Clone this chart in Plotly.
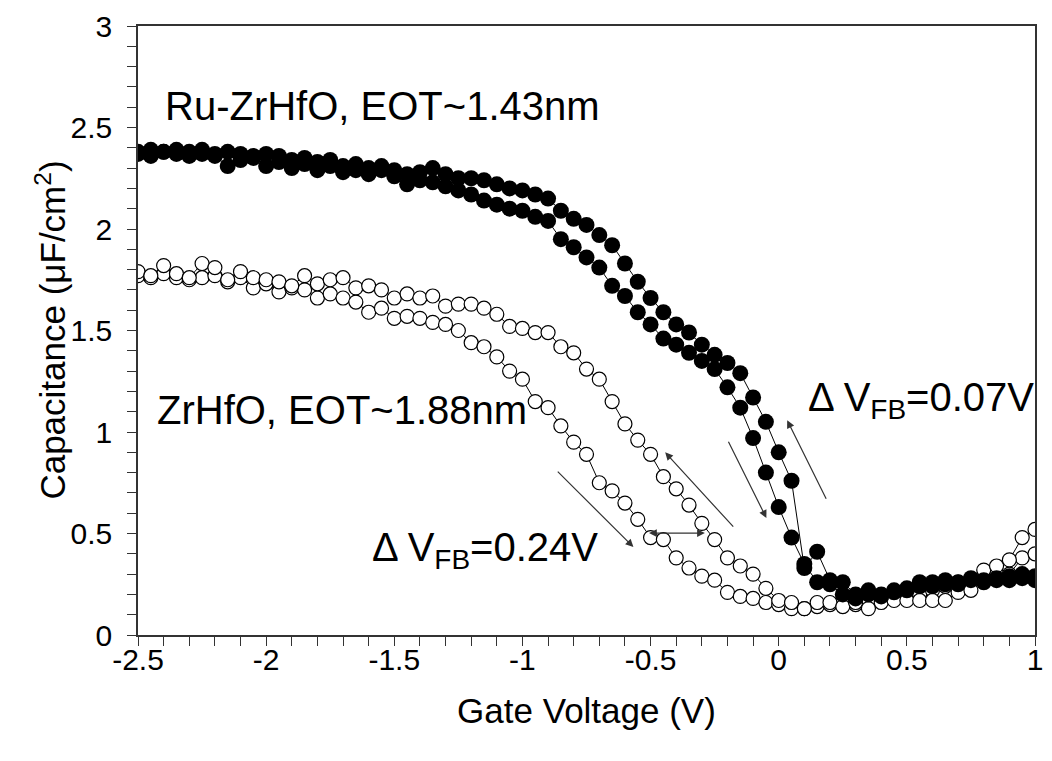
import plotly.graph_objects as go

gate_voltage = [
    -2.50, -2.45, -2.40, -2.35, -2.30, -2.25, -2.20, -2.15, -2.10, -2.05,
    -2.00, -1.95, -1.90, -1.85, -1.80, -1.75, -1.70, -1.65, -1.60, -1.55,
    -1.50, -1.45, -1.40, -1.35, -1.30, -1.25, -1.20, -1.15, -1.10, -1.05,
    -1.00, -0.95, -0.90, -0.85, -0.80, -0.75, -0.70, -0.65, -0.60, -0.55,
    -0.50, -0.45, -0.40, -0.35, -0.30, -0.25, -0.20, -0.15, -0.10, -0.05,
    0.00, 0.05, 0.10, 0.15, 0.20, 0.25, 0.30, 0.35, 0.40, 0.45,
    0.50, 0.55, 0.60, 0.65, 0.70, 0.75, 0.80, 0.85, 0.90, 0.95, 1.00,
]

# Ru-ZrHfO (filled circles), two sweep branches
ru_sweep_a = [
    2.37, 2.36, 2.38, 2.37, 2.36, 2.37, 2.36, 2.31, 2.34, 2.36,
    2.31, 2.33, 2.30, 2.32, 2.29, 2.31, 2.28, 2.29, 2.27, 2.29,
    2.26, 2.22, 2.24, 2.23, 2.21, 2.19, 2.17, 2.14, 2.12, 2.10,
    2.09, 2.06, 2.04, 1.95, 1.91, 1.86, 1.81, 1.72, 1.67, 1.59,
    1.53, 1.46, 1.43, 1.39, 1.35, 1.31, 1.22, 1.12, 0.97, 0.80,
    0.63, 0.48, 0.35, 0.26, 0.25, 0.20, 0.18, 0.20, 0.19, 0.21,
    0.22, 0.24, 0.24, 0.25, 0.25, 0.27, 0.26, 0.27, 0.27, 0.28, 0.27,
]
ru_sweep_b = [
    2.38, 2.39, 2.38, 2.39, 2.38, 2.39, 2.37, 2.38, 2.37, 2.35,
    2.37, 2.36, 2.34, 2.35, 2.33, 2.34, 2.31, 2.32, 2.30, 2.31,
    2.29, 2.27, 2.28, 2.30, 2.27, 2.25, 2.25, 2.24, 2.22, 2.20,
    2.19, 2.17, 2.15, 2.09, 2.05, 2.02, 1.97, 1.92, 1.83, 1.74,
    1.66, 1.59, 1.53, 1.49, 1.43, 1.38, 1.34, 1.29, 1.17, 1.05,
    0.90, 0.76, 0.33, 0.41, 0.27, 0.26, 0.20, 0.22, 0.20, 0.22,
    0.23, 0.26, 0.26, 0.27, 0.26, 0.28, 0.27, 0.28, 0.29, 0.30, 0.29,
]

# ZrHfO (open circles), two sweep branches
zr_sweep_a = [
    1.77, 1.76, 1.78, 1.76, 1.75, 1.76, 1.77, 1.74, 1.76, 1.71,
    1.73, 1.69, 1.71, 1.70, 1.66, 1.68, 1.66, 1.64, 1.59, 1.61,
    1.56, 1.57, 1.56, 1.54, 1.53, 1.50, 1.44, 1.42, 1.37, 1.30,
    1.26, 1.15, 1.12, 1.03, 0.95, 0.89, 0.75, 0.71, 0.65, 0.57,
    0.48, 0.47, 0.38, 0.33, 0.29, 0.27, 0.21, 0.19, 0.18, 0.16,
    0.15, 0.13, 0.13, 0.14, 0.15, 0.17, 0.15, 0.16, 0.18, 0.19,
    0.20, 0.20, 0.22, 0.24, 0.26, 0.27, 0.29, 0.30, 0.30, 0.38, 0.40,
]
zr_sweep_b = [
    1.79, 1.77, 1.82, 1.78, 1.76, 1.83, 1.81, 1.75, 1.79, 1.76,
    1.75, 1.74, 1.72, 1.77, 1.73, 1.75, 1.76, 1.71, 1.72, 1.70,
    1.66, 1.68, 1.66, 1.67, 1.62, 1.63, 1.63, 1.61, 1.58, 1.52,
    1.51, 1.49, 1.49, 1.42, 1.39, 1.31, 1.26, 1.15, 1.04, 0.96,
    0.89, 0.78, 0.72, 0.64, 0.55, 0.47, 0.38, 0.34, 0.30, 0.23,
    0.17, 0.16, 0.13, 0.16, 0.16, 0.14, 0.16, 0.13, 0.16, 0.17,
    0.17, 0.17, 0.17, 0.17, 0.21, 0.22, 0.32, 0.34, 0.37, 0.48, 0.52,
]

x_ticks = [-2.5, -2, -1.5, -1, -0.5, 0, 0.5, 1]
x_tick_text = ["-2.5", "-2", "-1.5", "-1", "-0.5", "0", "0.5", "1"]
y_ticks = [0, 0.5, 1, 1.5, 2, 2.5, 3]
y_tick_text = ["0", "0.5", "1", "1.5", "2", "2.5", "3"]

FONT = "Liberation Sans, Arial, sans-serif"

fig = go.Figure()

for ys in (zr_sweep_a, zr_sweep_b):
    fig.add_trace(go.Scatter(
        x=gate_voltage, y=ys, mode="lines+markers",
        line=dict(color="black", width=1),
        marker=dict(symbol="circle", size=14, color="white",
                    line=dict(color="black", width=1.2)),
        showlegend=False, hoverinfo="skip",
    ))
for ys in (ru_sweep_a, ru_sweep_b):
    fig.add_trace(go.Scatter(
        x=gate_voltage, y=ys, mode="lines+markers",
        line=dict(color="black", width=1),
        marker=dict(symbol="circle", size=16, color="black",
                    line=dict(color="black", width=0)),
        showlegend=False, hoverinfo="skip",
    ))

ann_font = dict(family=FONT, size=40, color="black")
texts = [
    dict(x=-2.403, y=2.607, text="Ru-ZrHfO, EOT~1.43nm"),
    dict(x=-2.434, y=1.107, text="ZrHfO, EOT~1.88nm"),
    dict(x=0.106, y=1.16, text="\u0394 V<sub>FB</sub>=0.07V"),
    dict(x=-1.595, y=0.42, text="\u0394 V<sub>FB</sub>=0.24V"),
]
for t in texts:
    fig.add_annotation(x=t["x"], y=t["y"], text=t["text"], showarrow=False,
                       xanchor="left", yanchor="middle", font=ann_font,
                       xref="x", yref="y")

# y-axis title placed as rotated text
fig.add_annotation(x=-0.098, y=0.5, xref="paper", yref="paper",
                   text="Capacitance (\u03bcF/cm<sup>2</sup>)", textangle=-90,
                   showarrow=False, xanchor="center", yanchor="middle",
                   font=dict(family=FONT, size=35, color="black"))

arrows = [
    dict(tx=-0.868, ty=0.812, hx=-0.567, hy=0.433, side="end"),
    dict(tx=-0.172, ty=0.526, hx=-0.443, hy=0.900, side="end"),
    dict(tx=-0.512, ty=0.502, hx=-0.288, hy=0.502, side="end+start"),
    dict(tx=-0.199, ty=0.959, hx=-0.048, hy=0.576, side="end"),
    dict(tx=0.188, ty=0.664, hx=0.033, hy=1.058, side="end"),
]
for a in arrows:
    fig.add_annotation(x=a["hx"], y=a["hy"], ax=a["tx"], ay=a["ty"],
                       xref="x", yref="y", axref="x", ayref="y",
                       text="", showarrow=True, arrowhead=2, arrowsize=1.3,
                       arrowwidth=1.2, arrowcolor="#333333",
                       arrowside=a["side"])

axis_common = dict(
    showgrid=False, zeroline=False, showline=True, linecolor="#333333",
    linewidth=1.5, mirror=True, ticks="outside", ticklen=9, tickwidth=1.2,
    tickcolor="#333333",
    tickfont=dict(family=FONT, size=30, color="black"),
)

fig.update_xaxes(
    range=[-2.5, 1], tickmode="array", tickvals=x_ticks, ticktext=x_tick_text,
    ticklabelstandoff=-12,
    minor=dict(dtick=0.1, ticks="outside", ticklen=9, tickwidth=1.2,
               tickcolor="#333333"),
    title=dict(text="Gate Voltage (V)", font=dict(family=FONT, size=35, color="black"),
               standoff=24),
    **axis_common,
)
fig.update_yaxes(
    range=[0, 3], tickmode="array", tickvals=y_ticks, ticktext=y_tick_text,
    ticklabelstandoff=9,
    minor=dict(dtick=0.1, ticks="outside", ticklen=9, tickwidth=1.2,
               tickcolor="#333333"),
    **axis_common,
)

fig.update_layout(
    width=1052, height=761,
    margin=dict(l=138, r=9, t=25, b=126),
    paper_bgcolor="white", plot_bgcolor="white",
    showlegend=False,
)

fig.write_html("out.html")
